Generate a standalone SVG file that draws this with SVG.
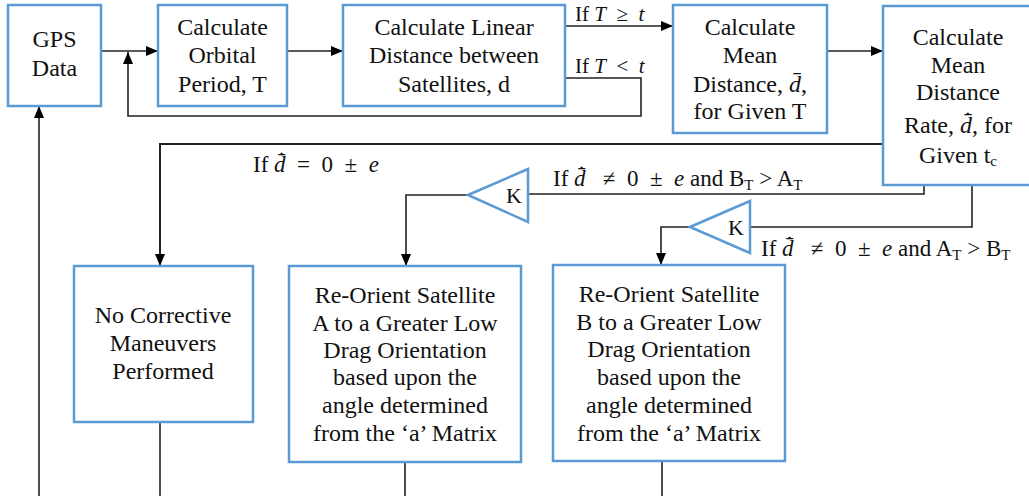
<svg xmlns="http://www.w3.org/2000/svg" width="1029" height="496" viewBox="0 0 1029 496">
<style>
.box{fill:#fff;stroke:#5B9BD5;stroke-width:2.5}
.tri{fill:#fff;stroke:#5B9BD5;stroke-width:2.5}
text{font-family:'Liberation Serif','Times New Roman','DejaVu Serif',serif;fill:#111}
.t{font-size:24px;text-anchor:middle}
.l{font-size:21px}
.l2{font-size:23px}
.k{font-size:22px;text-anchor:middle}
.c{fill:none;stroke:#222;stroke-width:1.6}
.i{font-style:italic}
.m{font-style:italic}
</style>
<defs>
<marker id="ah" viewBox="0 0 12 10" refX="12" refY="5" markerWidth="12" markerHeight="10" markerUnits="userSpaceOnUse" orient="auto">
<path d="M0,0 L12,5 L0,10 Z" fill="#000"/>
</marker>
</defs>
<rect width="1029" height="496" fill="#fff"/>
<g id="connectors">
<path class="c" d="M101,51 H158" marker-end="url(#ah)"/>
<path class="c" d="M287,51 H343" marker-end="url(#ah)"/>
<path class="c" d="M565,26 H673" marker-end="url(#ah)"/>
<path class="c" d="M565,78 H641 V116 H128 V52" marker-end="url(#ah)"/>
<path class="c" d="M827,51 H883" marker-end="url(#ah)"/>
<path class="c" d="M883,144 H160 V266" marker-end="url(#ah)" style="stroke-width:2"/>
<path class="c" d="M924,185 V194 H528"/>
<path class="c" d="M468,195 H406 V266" marker-end="url(#ah)"/>
<path class="c" d="M972,185 V227 H750"/>
<path class="c" d="M690,227 H661 V265" marker-end="url(#ah)"/>
<path class="c" d="M160,422 V496"/>
<path class="c" d="M405,462 V496"/>
<path class="c" d="M662,461 V496"/>
<path class="c" d="M39,496 V106" marker-end="url(#ah)"/>
</g>
<g id="gps">
<rect class="box" x="8" y="5" width="93" height="101"/>
<text class="t" x="54.5" y="47">GPS</text>
<text class="t" x="54.5" y="76">Data</text>
</g>
<g id="orbital">
<rect class="box" x="158" y="5" width="129" height="101"/>
<text class="t" x="222.5" y="35">Calculate</text>
<text class="t" x="222.5" y="63">Orbital</text>
<text class="t" x="222.5" y="92">Period, T</text>
</g>
<g id="linear">
<rect class="box" x="343" y="5" width="222" height="101"/>
<text class="t" x="454" y="35">Calculate Linear</text>
<text class="t" x="454" y="63">Distance between</text>
<text class="t" x="454" y="92">Satellites, d</text>
</g>
<g id="mean">
<rect class="box" x="673" y="5" width="154" height="128"/>
<text class="t" x="750" y="35">Calculate</text>
<text class="t" x="750" y="63">Mean</text>
<text class="t" x="750" y="92">Distance, <tspan class="m">d̄</tspan>,</text>
<text class="t" x="750" y="119">for Given T</text>
</g>
<g id="rate">
<rect class="box" x="883" y="6" width="150" height="179"/>
<text class="t" x="958" y="45">Calculate</text>
<text class="t" x="958" y="73">Mean</text>
<text class="t" x="958" y="100">Distance</text>
<text class="t" x="958" y="133">Rate, <tspan class="m">d̄̇</tspan>, for</text>
<text class="t" x="958" y="163">Given t<tspan font-size="15" dy="3">c</tspan></text>
</g>
<g id="k1">
<polygon class="tri" points="468,195 528,169 528,222"/>
<text class="k" x="514" y="203">K</text>
</g>
<g id="k2">
<polygon class="tri" points="690,227 750,201 750,253"/>
<text class="k" x="736" y="235">K</text>
</g>
<g id="nocorrective">
<rect class="box" x="74" y="266" width="179" height="156"/>
<text class="t" x="163" y="323">No Corrective</text>
<text class="t" x="163" y="351">Maneuvers</text>
<text class="t" x="163" y="379">Performed</text>
</g>
<g id="reorientA">
<rect class="box" x="289" y="266" width="232" height="196"/>
<text class="t" x="405" y="303">Re-Orient Satellite</text>
<text class="t" x="405" y="331">A to a Greater Low</text>
<text class="t" x="405" y="358">Drag Orientation</text>
<text class="t" x="405" y="385">based upon the</text>
<text class="t" x="405" y="413">angle determined</text>
<text class="t" x="405" y="441">from the ‘a’ Matrix</text>
</g>
<g id="reorientB">
<rect class="box" x="553" y="265" width="232" height="196"/>
<text class="t" x="669" y="302">Re-Orient Satellite</text>
<text class="t" x="669" y="330">B to a Greater Low</text>
<text class="t" x="669" y="357">Drag Orientation</text>
<text class="t" x="669" y="385">based upon the</text>
<text class="t" x="669" y="413">angle determined</text>
<text class="t" x="669" y="441">from the ‘a’ Matrix</text>
</g>
<g id="labels">
<text class="l" x="575" y="21" xml:space="preserve">If <tspan class="i">T</tspan>  ≥  <tspan class="i">t</tspan></text>
<text class="l" x="575" y="73" xml:space="preserve">If <tspan class="i">T</tspan>  &lt;  <tspan class="i">t</tspan></text>
<text class="l2" x="253" y="172" xml:space="preserve">If <tspan class="m">d̄̇</tspan>  =  0  ±  <tspan class="i">e</tspan></text>
<text class="l2" x="553" y="186" xml:space="preserve">If <tspan class="m">d̄̇</tspan>   ≠  0  ±  <tspan class="i">e</tspan> and B<tspan font-size="15" dy="4">T</tspan><tspan dy="-4"> &gt; A</tspan><tspan font-size="15" dy="4">T</tspan></text>
<text class="l2" x="761" y="256" xml:space="preserve">If <tspan class="m">d̄̇</tspan>   ≠  0  ±  <tspan class="i">e</tspan> and A<tspan font-size="15" dy="4">T</tspan><tspan dy="-4"> &gt; B</tspan><tspan font-size="15" dy="4">T</tspan></text>
</g>
</svg>
